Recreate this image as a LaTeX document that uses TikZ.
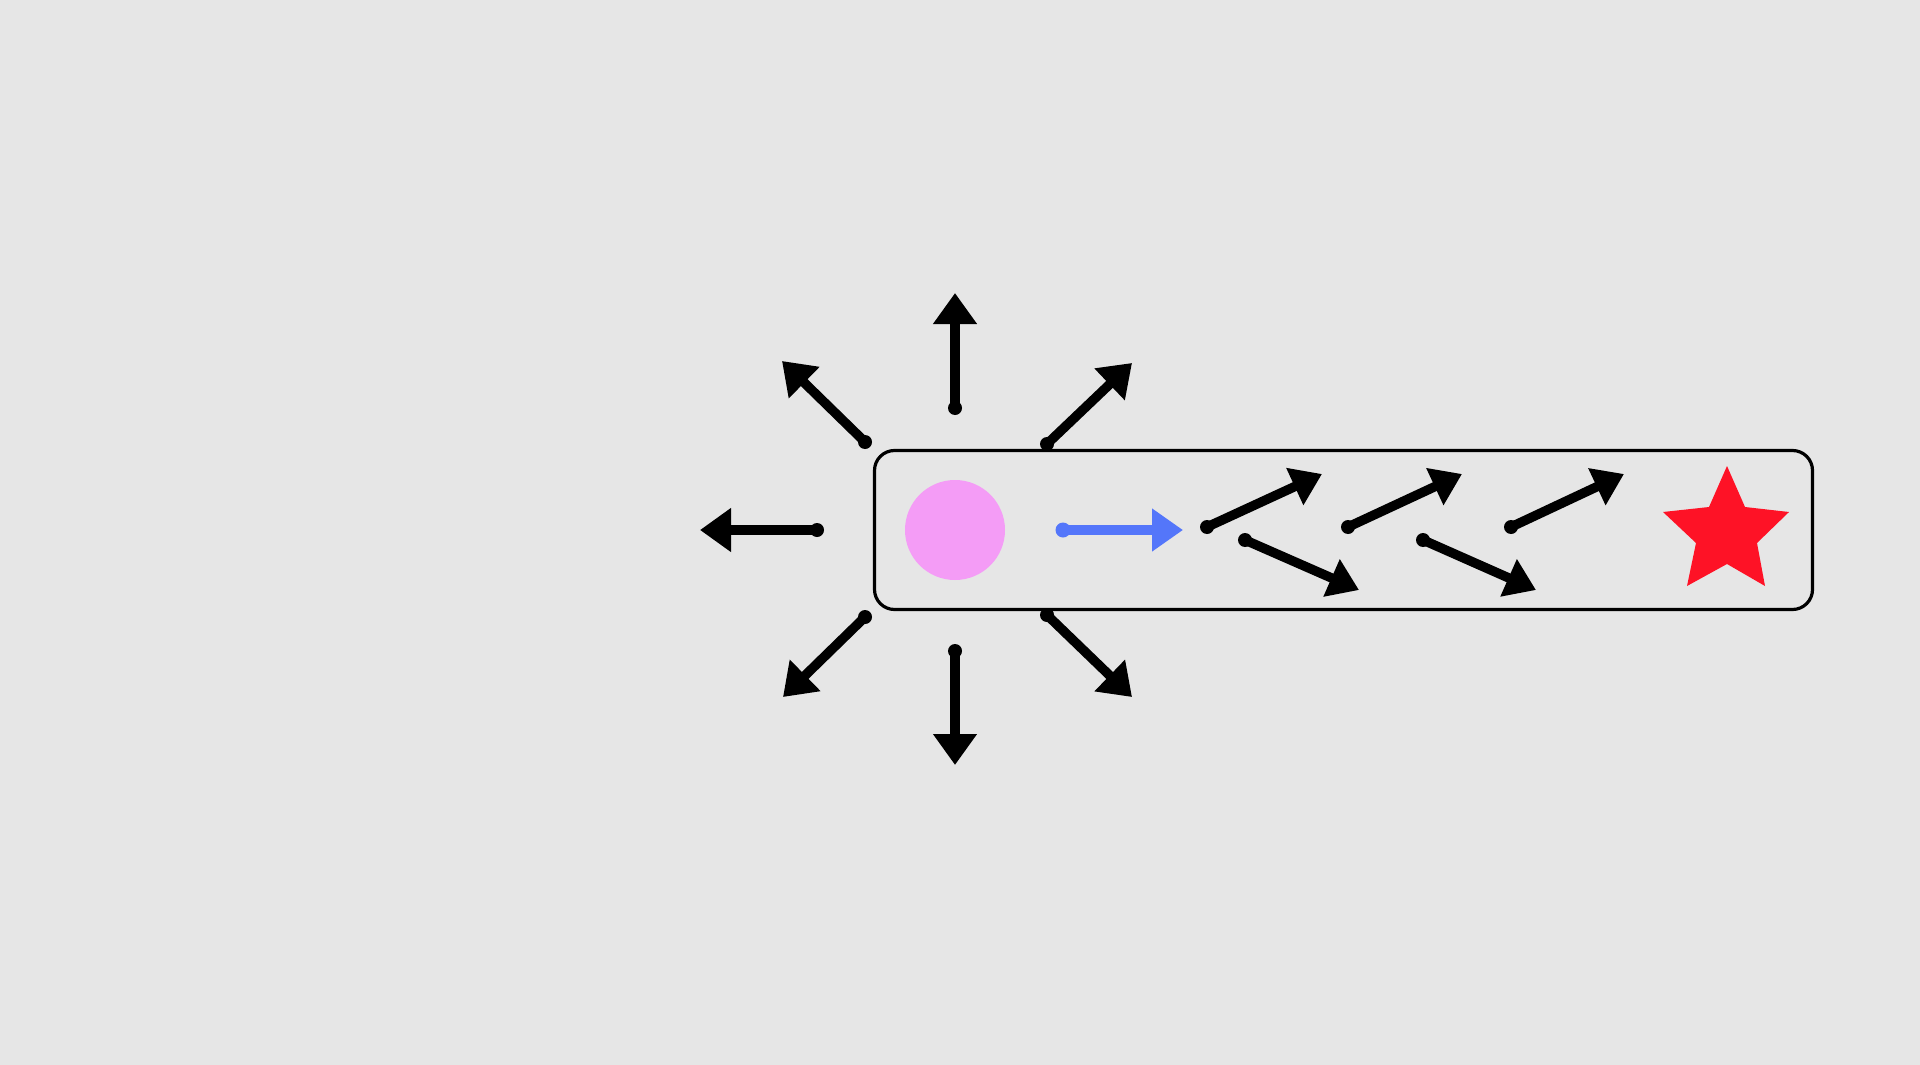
\documentclass[tikz,border=0pt]{standalone}
\usetikzlibrary{arrows.meta}
\definecolor{bgc}{RGB}{230,230,230}
\definecolor{pinkc}{RGB}{244,156,246}
\definecolor{bluec}{RGB}{84,118,250}
\definecolor{redc}{RGB}{254,18,38}
\begin{document}
\begin{tikzpicture}[x=1pt,y=-1pt,
  ray/.style={line width=9.5pt, line cap=round, -{Triangle[length=31pt,width=42pt]}},
  zray/.style={line width=9.5pt, line cap=round, -{Triangle[length=30pt,width=39pt]}},
  bray/.style={bluec, line width=10.5pt, line cap=round, -{Triangle[length=31pt,width=41pt]}},
  blob/.style={fill=black},
  frame/.style={draw=black, line width=3.2pt, rounded corners=20pt, minimum width=938pt, minimum height=159pt, inner sep=0pt}]
\fill[bgc] (0,0) rectangle (1920,1065);
\useasboundingbox (0,0) rectangle (1920,1065);

\node[frame] (box) at (1343.5,530) {};
\node[circle, fill=pinkc, minimum size=100pt, inner sep=0pt] (ball) at (955,530) {};
\fill[redc] (1727,466) -- (1745,507) -- (1789,512) -- (1757,543) -- (1765,586)
  -- (1727,564) -- (1687,586) -- (1696,543) -- (1663,512) -- (1709,507) -- cycle;

% rays round the ball
\coordinate (uA) at (955,408);  \coordinate (uB) at (955,293);
\coordinate (ulA) at (865,442); \coordinate (ulB) at (782,361);
\coordinate (urA) at (1047,444); \coordinate (urB) at (1132,363);
\coordinate (lA) at (817,530);  \coordinate (lB) at (700,530);
\coordinate (dlA) at (865,617); \coordinate (dlB) at (783,697);
\coordinate (dA) at (955,651);  \coordinate (dB) at (955,765);
\coordinate (drA) at (1047,615); \coordinate (drB) at (1132,697);
\foreach \p in {u,ul,ur,l,dl,d,dr}{
  \draw[ray] (\p A) -- (\p B);
  \fill[blob] (\p A) circle[radius=7pt];
}

% blue arrow
\coordinate (bA) at (1063,530); \coordinate (bB) at (1183,530);
\draw[bray] (bA) -- (bB);
\fill[bluec] (bA) circle[radius=7.5pt];

% zigzag arrows
\coordinate (z1A) at (1207,527); \coordinate (z1B) at (1322,474);
\coordinate (z2A) at (1245,540); \coordinate (z2B) at (1359,590);
\coordinate (z3A) at (1348,527); \coordinate (z3B) at (1462,474);
\coordinate (z4A) at (1423,540); \coordinate (z4B) at (1536,590);
\coordinate (z5A) at (1511,527); \coordinate (z5B) at (1624,474);
\foreach \p in {z1,z2,z3,z4,z5}{
  \draw[zray] (\p A) -- (\p B);
  \fill[blob] (\p A) circle[radius=7pt];
}
\end{tikzpicture}
\end{document}
